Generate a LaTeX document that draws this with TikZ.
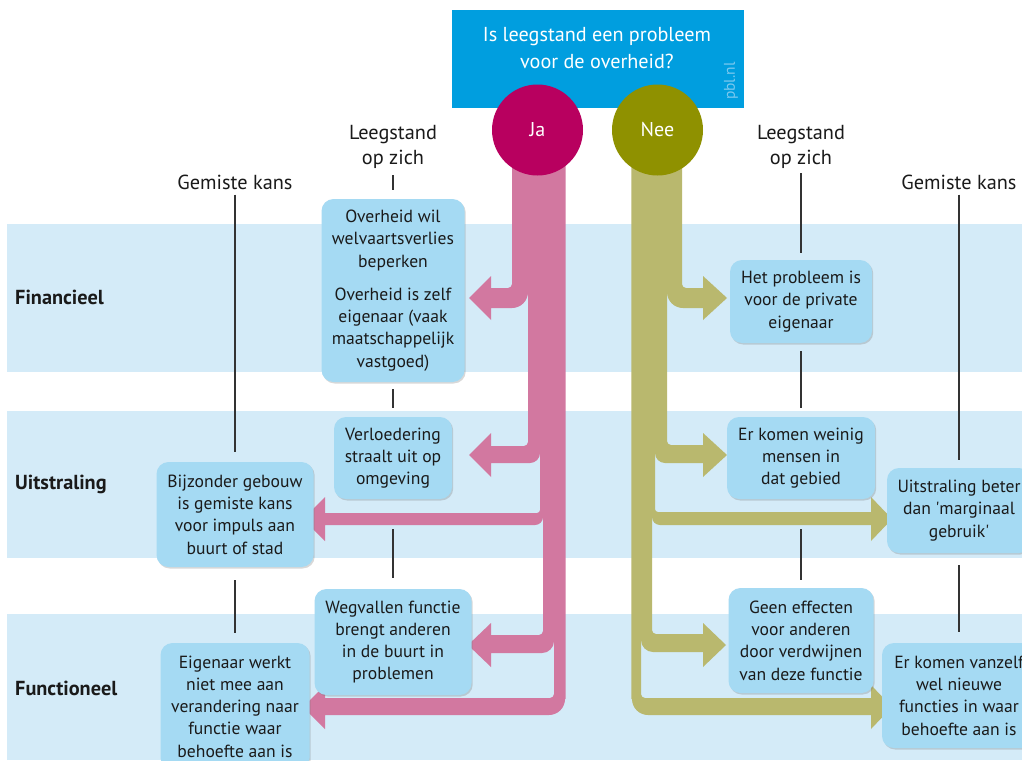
\documentclass[tikz,border=0pt]{standalone}
\usepackage{fontspec}
\setmainfont{PT Sans}
\usetikzlibrary{shadows}
\definecolor{bandc}{HTML}{D4EBF8}
\definecolor{boxc}{HTML}{A5DAF3}
\definecolor{topc}{HTML}{009EDF}
\definecolor{pinkc}{HTML}{D278A0}
\definecolor{olivec}{HTML}{B9B86E}
\definecolor{jac}{HTML}{B8005F}
\definecolor{neec}{HTML}{8F9100}
\definecolor{txtc}{HTML}{1A1A1A}
\definecolor{linec}{HTML}{333333}
\definecolor{pblc}{HTML}{7CC9EF}
% #1 outer edge, #2 inner edge, #3 arm top, #4 arm bottom, #5 arrow middle,
% #6 head base, #7 tip, #8 inner radius, #9 outer radius
\newcommand\pinkstrand[9]{%
  \fill[pinkc] (#1,150) -- (#1,{#3-#8}) .. controls (#1,{#3-0.448*#8}) and ({#1-0.448*#8},#3) .. ({#1-#8},#3)
    -- (#6,#3) -- (#6,{#5-22}) -- (#7,#5) -- (#6,{#5+22}) -- (#6,#4) -- ({#2-#9},#4)
    .. controls ({#2-0.448*#9},#4) and (#2,{#4-0.448*#9}) .. (#2,{#4-#9})
    -- ({#2+0.6},{#4-#9}) -- ({#2+0.6},150) -- cycle;}
\newcommand\olivestrand[9]{%
  \fill[olivec] (#1,150) -- (#1,{#3-#8}) .. controls (#1,{#3-0.448*#8}) and ({#1+0.448*#8},#3) .. ({#1+#8},#3)
    -- (#6,#3) -- (#6,{#5-22}) -- (#7,#5) -- (#6,{#5+22}) -- (#6,#4) -- ({#2+#9},#4)
    .. controls ({#2+0.448*#9},#4) and (#2,{#4-0.448*#9}) .. (#2,{#4-#9})
    -- ({#2-0.6},{#4-#9}) -- ({#2-0.6},150) -- cycle;}
\begin{document}
\begin{tikzpicture}[x=1pt,y=-1pt,
  band/.style={fill=bandc},
  ibox/.style={fill=boxc, rounded corners=12pt, align=center, text=txtc, inner sep=0pt,
    font=\fontsize{17.6}{22.3}\selectfont,
    drop shadow={shadow xshift=1.2pt, shadow yshift=-1.5pt, opacity=0.28, fill=black!55}},
  hdr/.style={align=center, text=txtc, inner sep=0pt, font=\fontsize{20.3}{25.5}\selectfont},
  lab/.style={anchor=west, text=txtc, inner sep=0pt, font=\bfseries\fontsize{20.3}{22}\selectfont},
  vline/.style={draw=linec, line width=1.1pt, shorten <=8pt, shorten >=9pt},
  circ/.style={circle, minimum size=91pt, inner sep=0pt, text=white, font=\fontsize{20}{22}\selectfont},
]
\path[use as bounding box] (0,0) rectangle (1022,760);
\clip (0,0) rectangle (1022,760);
\fill[white] (0,0) rectangle (1022,760);
\fill[band] (7,224) rectangle (1022,372);
\fill[band] (7,411) rectangle (1022,558);
\fill[band] (7,614) rectangle (1022,760);

\node[fill=topc, minimum width=292pt, minimum height=98pt, inner sep=0pt] (q) at (598,59) {};
\node[text=white, align=center, inner sep=0pt, font=\fontsize{20.2}{27}\selectfont] (qt) at (597,48) {Is leegstand een probleem\\voor de overheid?};
\node[rotate=90, text=pblc, inner sep=0pt, font=\fontsize{15.5}{15}\selectfont] (pbl) at (731,81) {pbl.nl};

% pink strands (Ja)
\pinkstrand{512}{528}{288}{308}{298}{491}{469}{4}{16}
\pinkstrand{528}{540}{446}{463}{455}{491}{469}{4}{10}
\pinkstrand{540}{543}{513}{525}{519}{325}{303}{3}{8}
\pinkstrand{543}{554}{635}{653}{645}{491}{468}{4}{12}
\pinkstrand{554}{565}{698}{715}{707}{325}{303}{4}{16}
% olive strands (Nee)
\olivestrand{682}{667}{288}{308}{298}{703}{727}{4}{16}
\olivestrand{667}{655}{445}{463}{455}{703}{727}{4}{10}
\olivestrand{655}{652}{512}{525}{519}{871}{892}{3}{8}
\olivestrand{652}{641}{634}{652}{645}{703}{726}{4}{12}
\olivestrand{641}{632}{698}{715}{707}{871}{892}{4}{16}

\node[circ, fill=jac] (ja) at (537.5,130) {Ja};
\node[circ, fill=neec] (nee) at (657.5,130) {Nee};

\node[ibox, minimum width=143pt, minimum height=183pt] (b1) at (393,290.5)
  {Overheid wil\\welvaartsverlies\\beperken\\[11pt]Overheid is zelf\\eigenaar (vaak\\maatschappelijk\\vastgoed)};
\node[ibox, minimum width=118pt, minimum height=82pt] (b2) at (393,458) {Verloedering\\straalt uit op\\omgeving};
\node[ibox, minimum width=157pt, minimum height=105pt] (b3) at (235,514.5) {Bijzonder gebouw\\is gemiste kans\\voor impuls aan\\buurt of stad};
\node[ibox, minimum width=157pt, minimum height=106pt] (b4) at (393,642) {Wegvallen functie\\brengt anderen\\in de buurt in\\problemen};
\node[ibox, minimum width=149pt, minimum height=127pt] (b5) at (235,706.5) {Eigenaar werkt\\niet mee aan\\verandering naar\\functie waar\\behoefte aan is};
\node[ibox, minimum width=142pt, minimum height=83pt] (b6) at (801,301.5) {Het probleem is\\voor de private\\eigenaar};
\node[ibox, minimum width=148pt, minimum height=82pt] (b7) at (801,458) {Er komen weinig\\mensen in\\dat gebied};
\node[ibox, minimum width=144pt, minimum height=85pt] (b8) at (959,510.5) {Uitstraling beter\\dan \textquotesingle marginaal\\gebruik\textquotesingle};
\node[ibox, minimum width=145pt, minimum height=105pt] (b9) at (801,640.5) {Geen effecten\\voor anderen\\door verdwijnen\\van deze functie};
\node[ibox, minimum width=154pt, minimum height=105pt] (b10) at (959,695.5) {Er komen vanzelf\\wel nieuwe\\functies in waar\\behoefte aan is};

\node[hdr] (hL1) at (393,147) {Leegstand\\op zich};
\node[hdr] (hL2) at (235,182) {Gemiste kans};
\node[hdr] (hR1) at (801,147) {Leegstand\\op zich};
\node[hdr] (hR2) at (959,182) {Gemiste kans};

\draw[vline, shorten <=6pt] (hL1) -- (b1);
\draw[vline, shorten <=7pt] (b1) -- (b2);
\draw[vline, shorten <=30pt, shorten >=11pt] (b2) -- (b4);
\draw[vline, shorten <=5pt, shorten >=10pt] (hL2) -- (b3);
\draw[vline, shorten <=13pt, shorten >=10pt] (b3) -- (b5);
\draw[vline, shorten <=4pt, shorten >=7pt] (hR1) -- (b6);
\draw[vline] (b6) -- (b7);
\draw[vline, shorten <=30pt, shorten >=8pt] (b7) -- (b9);
\draw[vline, shorten <=5pt, shorten >=8pt] (hR2) -- (b8);
\draw[vline, shorten <=12pt, shorten >=11pt] (b8) -- (b10);

\node[lab] (lf) at (15,297) {Financieel};
\node[lab] (lu) at (15,484) {Uitstraling};
\node[lab] (lfu) at (15,688) {Functioneel};
\end{tikzpicture}
\end{document}
